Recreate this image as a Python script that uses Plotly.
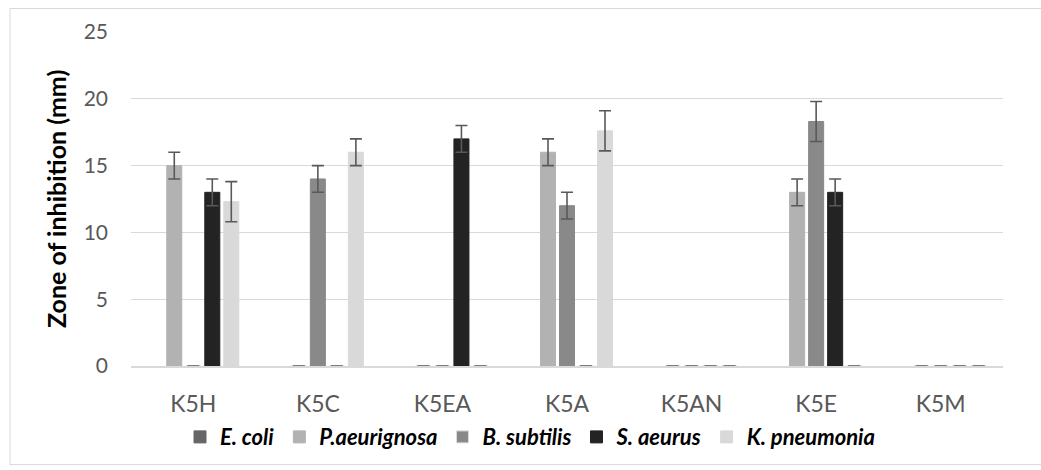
import plotly.graph_objects as go

categories = ["K5H", "K5C", "K5EA", "K5A", "K5AN", "K5E", "K5M"]
series_names = ["E. coli", "P.aeurignosa", "B. subtilis", "S. aeurus", "K. pneumonia"]
e_coli = [None, None, None, None, None, None, None]
p_aeurignosa = [15, 0, 0, 16, 0, 13, 0]
b_subtilis = [0, 14, 0, 12, 0, 18.3, 0]
s_aeurus = [13, 0, 17, 0, 0, 13, 0]
k_pneumonia = [12.3, 16, 0, 17.6, 0, 0, 0]
e_coli_err = [0, 0, 0, 0, 0, 0, 0]
p_aeurignosa_err = [1, 0, 0, 1, 0, 1, 0]
b_subtilis_err = [0, 1, 0, 1, 0, 1.5, 0]
s_aeurus_err = [1, 0, 1, 0, 0, 1, 0]
k_pneumonia_err = [1.5, 1, 0, 1.5, 0, 0, 0]
y_title = "Zone of inhibition (mm)"

values = [e_coli, p_aeurignosa, b_subtilis, s_aeurus, k_pneumonia]
errors = [e_coli_err, p_aeurignosa_err, b_subtilis_err, s_aeurus_err, k_pneumonia_err]
colors = ["#666666", "#b2b2b2", "#898989", "#232323", "#d9d9d9"]

FONT = "Lato"
fig = go.Figure()
for name, vals, errs, col in zip(series_names, values, errors, colors):
    line_cols = [("#dcdcdc" if v == 0 else col) for v in vals]
    fig.add_trace(go.Bar(
        name=name, x=categories, y=vals,
        marker=dict(color=col, line=dict(color=line_cols, width=1)),
        error_y=dict(type="data", array=[(e if e > 0 else None) for e in errs],
                     visible=True, color="#595959", thickness=1.6, width=6),
    ))

W, H = 1041, 470
L, R, T, B = 131, 38, 32, 96
pw, ph = W - L - R, H - T - B
fig.add_shape(type="rect", xref="paper", yref="paper",
              x0=(10 - L) / pw, x1=(W + 5 - L) / pw,
              y0=-(H + 5 - (H - B)) / ph, y1=1 + (T - 8) / ph,
              line=dict(color="#d9d9d9", width=1), fillcolor="rgba(0,0,0,0)", layer="below")
fig.add_annotation(text="<b>" + y_title + "</b>", xref="paper", yref="paper",
                   x=(56 - L) / pw, y=0.5, xanchor="center", yanchor="middle",
                   textangle=-90, showarrow=False,
                   font=dict(size=25, color="#000000", family=FONT))

fig.update_layout(
    width=W, height=H, margin=dict(l=L, r=R, t=T, b=B),
    paper_bgcolor="white", plot_bgcolor="white",
    barmode="group", bargap=0.237, bargroupgap=0.21,
    font=dict(family=FONT, color="#595959"),
    legend=dict(orientation="h", x=(530 - L) / pw, xanchor="center", y=-0.15, yanchor="top",
                font=dict(family=FONT, size=22, color="#000000", style="italic", weight="bold"),
                itemwidth=30, traceorder="normal"),
    showlegend=True,
)
fig.update_xaxes(showline=True, linecolor="#d9d9d9", linewidth=1.5, ticks="",
                 tickfont=dict(size=23, color="#595959", family=FONT),
                 ticklabelstandoff=17, showgrid=False)
fig.update_yaxes(range=[0, 25], dtick=5, showgrid=True, gridcolor="#d9d9d9", gridwidth=1.3,
                 zeroline=False, ticks="", tickfont=dict(size=21, color="#595959", family=FONT),
                 ticklabelstandoff=22)

fig.write_html("out.html")
